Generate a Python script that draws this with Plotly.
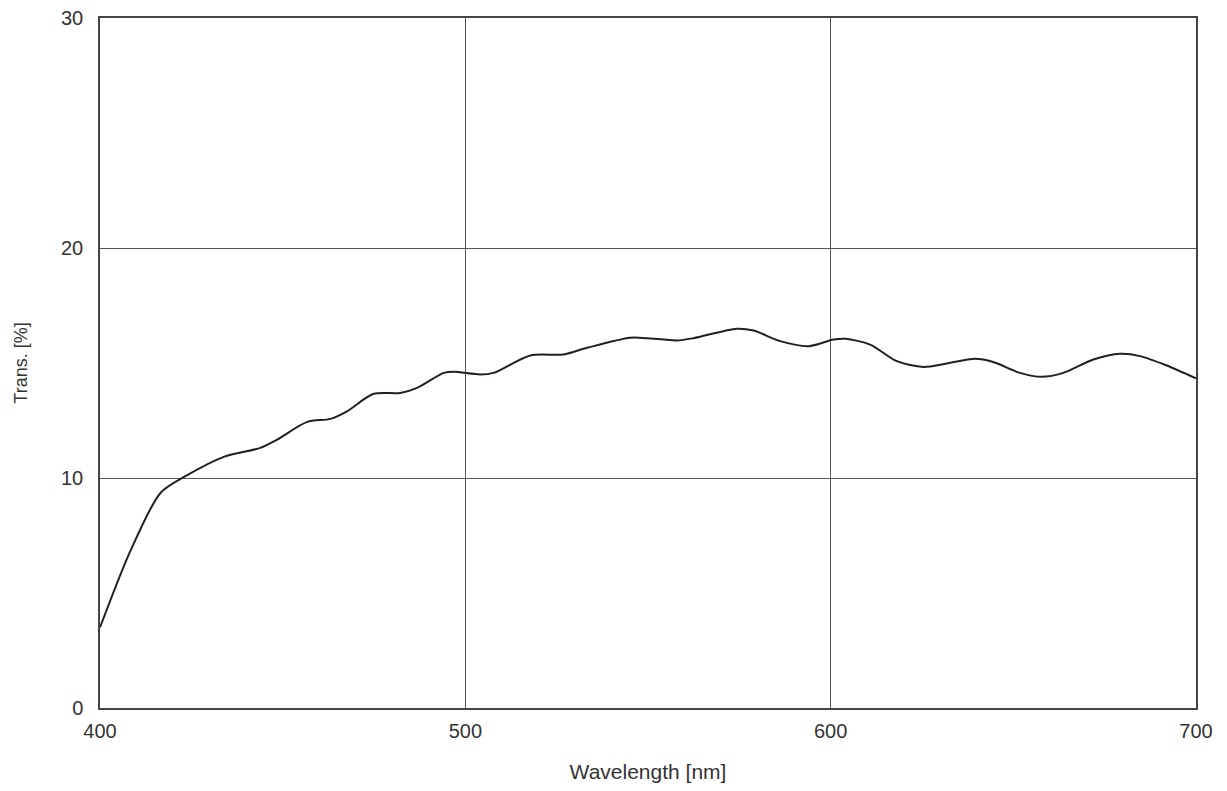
import plotly.graph_objects as go

wavelength = [400, 408.3, 416.6, 423.4, 433.9, 443.9, 448.5, 456.7, 463.1, 467.6, 474.9, 482.2,
              486.8, 494.1, 496.8, 504.1, 507.7, 517.8, 526.9, 533.3, 545.1, 549.7, 557.9, 562.5,
              574.3, 578.9, 586.2, 593.9, 600.8, 604.1, 610.8, 618.1, 625.4, 631.8, 639.5, 644.5,
              651.8, 657.8, 663.7, 671.9, 679.2, 684.7, 692, 700]
transmission = [3.5, 6.82, 9.36, 10.08, 10.92, 11.31, 11.67, 12.44, 12.57, 12.9, 13.66, 13.7,
                13.92, 14.57, 14.62, 14.5, 14.57, 15.33, 15.37, 15.66, 16.1, 16.08, 15.98, 16.08,
                16.49, 16.41, 15.95, 15.73, 16.02, 16.05, 15.8, 15.08, 14.83, 14.98, 15.18, 15.04,
                14.57, 14.4, 14.57, 15.15, 15.4, 15.3, 14.89, 14.33]

x_ticks = [400, 500, 600, 700]
y_ticks = [0, 10, 20, 30]

FONT = "Liberation Sans, Arial, sans-serif"

fig = go.Figure()
fig.add_trace(go.Scatter(
    x=wavelength, y=transmission, mode="lines",
    line=dict(color="#231f20", width=2, shape="spline", smoothing=0.8),
    showlegend=False, hoverinfo="x+y",
))

axis_common = dict(
    showgrid=True, gridcolor="#555555", gridwidth=1,
    showline=True, linecolor="#444444", linewidth=1.5, mirror=True,
    zeroline=False, ticks="", automargin=False, ticklabeloverflow="allow",
    tickfont=dict(family=FONT, size=20, color="#333333"),
)

fig.update_layout(
    width=1227, height=791,
    margin=dict(l=100, r=31, t=18, b=83),
    paper_bgcolor="white", plot_bgcolor="white",
    xaxis=dict(range=[400, 700], tickvals=x_ticks, ticklabelstandoff=4,
               title=dict(text="Wavelength [nm]", standoff=24,
                          font=dict(family=FONT, size=21, color="#333333")),
               **axis_common),
    yaxis=dict(range=[0, 30], tickvals=y_ticks, ticklabelstandoff=11,
               title=dict(text="Trans. [%]", standoff=29,
                          font=dict(family=FONT, size=18, color="#333333")),
               **axis_common),
)

fig.write_html("out.html", config={"displayModeBar": False},
               post_script="document.body.style.margin='0';document.body.style.overflow='hidden';")
